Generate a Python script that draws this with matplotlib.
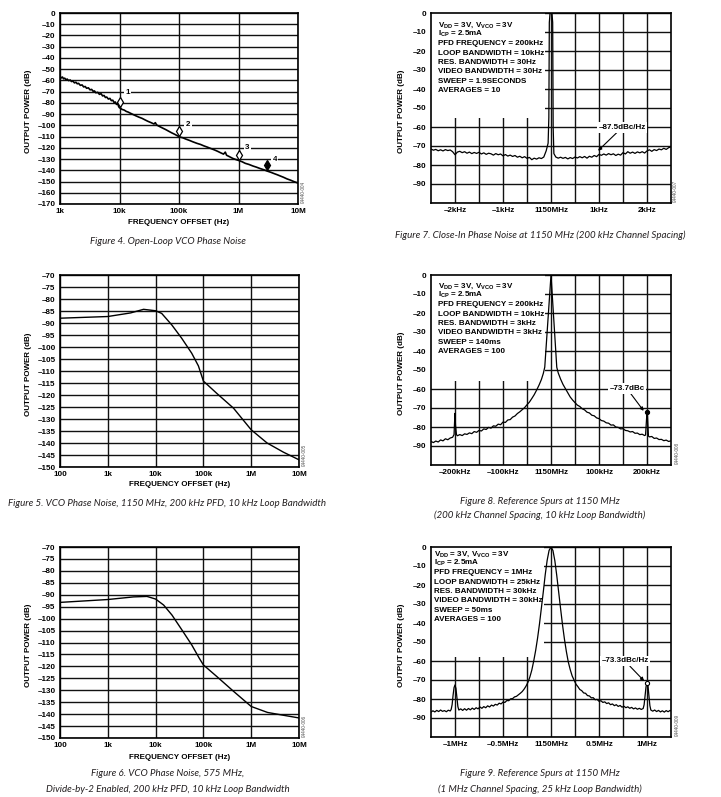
import matplotlib
matplotlib.use('Agg')
import matplotlib.pyplot as plt
from matplotlib.patches import Rectangle
from matplotlib.ticker import FixedLocator, FixedFormatter, NullLocator

plt.rcParams['font.family'] = ['Liberation Sans', 'DejaVu Sans']
plt.rcParams['mathtext.fontset'] = 'custom'
plt.rcParams['mathtext.rm'] = 'Liberation Sans:bold'
plt.rcParams['mathtext.it'] = 'Liberation Sans:bold'
plt.rcParams['mathtext.bf'] = 'Liberation Sans:bold'

# ---------------------------------------------------------------- data
# Figure 4: open-loop VCO phase noise (Hz, dB)
FIG4_TRACE = [
    (1000, -56.4), (1050, -57.8), (1100, -57.0), (1150, -58.6), (1200, -58.0),
    (1260, -59.4), (1320, -58.8), (1400, -60.2), (1480, -59.6), (1560, -61.0),
    (1650, -60.6), (1750, -62.2), (1850, -61.6), (1950, -63.0), (2050, -62.6),
    (2200, -64.4), (2350, -64.0), (2500, -65.8), (2650, -65.4), (2800, -67.0),
    (3000, -66.6), (3200, -68.4), (3400, -68.0), (3600, -69.6), (3800, -69.4),
    (4000, -71.0), (4300, -70.6), (4600, -72.4), (4900, -71.8), (5200, -73.8),
    (5500, -73.4), (5800, -75.2), (6100, -74.8), (6500, -76.6), (6900, -76.0),
    (7300, -78.0), (7700, -77.6), (8100, -79.6), (8500, -79.2), (8900, -81.4),
    (9300, -80.6), (9700, -83.4), (10000, -84.4), (10500, -84.8), (11000, -85.8),
    (12000, -86.4), (13000, -87.6), (14000, -88.2), (15000, -89.0), (17000, -90.4),
    (19000, -91.6), (21000, -92.6), (24000, -93.8), (27000, -95.2), (30000, -96.4),
    (34000, -97.6), (38000, -98.8), (40000, -97.6), (42000, -99.6), (47000, -101.0),
    (53000, -102.4), (60000, -103.8), (67000, -105.2), (75000, -106.6), (85000, -108.0),
    (95000, -109.4), (100000, -110.2), (115000, -111.0), (130000, -112.2), (150000, -113.4),
    (170000, -114.6), (200000, -116.0), (230000, -117.0), (260000, -118.2), (300000, -119.4),
    (350000, -120.8), (400000, -122.0), (450000, -123.2), (500000, -124.4), (560000, -125.6),
    (600000, -123.8), (630000, -126.6), (700000, -127.8), (800000, -129.4), (900000, -130.4),
    (1000000, -131.2), (1150000, -132.4), (1300000, -133.8), (1500000, -134.8), (1750000, -136.2),
    (2000000, -137.2), (2300000, -138.4), (2700000, -139.6), (3000000, -140.6), (3500000, -141.8),
    (4000000, -143.0), (4500000, -144.0), (5000000, -145.0), (5700000, -146.2), (6500000, -147.6),
    (7500000, -148.8), (8500000, -150.0), (10000000, -151.4),
]
FIG4_MARKER_HZ = [1e4, 1e5, 1e6, 3e6]
FIG4_MARKER_DB = [-79, -105, -126, -135]
FIG4_MARKER_LABELS = ['1', '2', '3', '4']

# Figure 5: VCO phase noise, 1150 MHz
FIG5_HZ = [100, 1000, 3000, 5600, 10000, 13400, 21800, 35000, 57000, 78700,
           100000, 190000, 427000, 1000000, 2150000, 4700000, 10000000]
FIG5_DB = [-88.0, -87.3, -85.8, -84.3, -84.9, -86.0, -90.8, -96.3, -102.6, -107.9,
           -114.2, -119.3, -125.5, -134.5, -140.0, -143.8, -147.0]

# Figure 6: VCO phase noise, 575 MHz, divide-by-2
FIG6_HZ = [100, 1000, 3450, 6600, 10000, 14700, 22000, 35700, 57000, 82000,
           100000, 192000, 430000, 1000000, 2200000, 4800000, 10000000]
FIG6_DB = [-93.2, -92.0, -90.9, -90.7, -91.8, -94.3, -98.5, -104.8, -111.0, -116.6,
           -119.4, -124.3, -130.5, -136.8, -139.3, -140.5, -141.6]

# Figure 7: close-in phase noise (kHz offset, dB)
FIG7_TRACE = [
    (-2.50, -71.6), (-2.45, -72.2), (-2.40, -71.8), (-2.35, -72.5), (-2.30, -72.0),
    (-2.25, -72.6), (-2.20, -71.9), (-2.15, -72.4), (-2.10, -72.1), (-2.05, -73.0),
    (-2.00, -74.6), (-1.95, -73.2), (-1.90, -72.8), (-1.85, -73.5), (-1.80, -73.0),
    (-1.75, -73.8), (-1.70, -73.2), (-1.65, -74.0), (-1.60, -73.4), (-1.55, -73.9),
    (-1.50, -73.3), (-1.45, -74.2), (-1.40, -73.6), (-1.35, -74.4), (-1.30, -73.8),
    (-1.25, -74.1), (-1.20, -74.8), (-1.15, -74.0), (-1.10, -74.6), (-1.05, -74.2),
    (-1.00, -75.2), (-0.95, -74.5), (-0.90, -75.3), (-0.85, -74.8), (-0.80, -75.5),
    (-0.75, -75.0), (-0.70, -75.9), (-0.65, -75.4), (-0.60, -76.2), (-0.55, -75.6),
    (-0.50, -76.5), (-0.45, -76.0), (-0.40, -77.2), (-0.35, -76.4), (-0.30, -76.9),
    (-0.25, -76.2), (-0.20, -76.6), (-0.15, -75.8), (-0.10, -72.5), (-0.06, -68.5),
    (-0.045, -55.0), (-0.035, -5.0), (-0.02, 0.0), (0.02, 0.0), (0.035, -5.0),
    (0.045, -60.0), (0.06, -74.0), (0.10, -75.8), (0.15, -76.4), (0.20, -75.9),
    (0.25, -76.5), (0.30, -76.0), (0.35, -76.8), (0.40, -76.1), (0.45, -76.6),
    (0.50, -75.8), (0.55, -76.3), (0.60, -75.6), (0.65, -76.2), (0.70, -75.5),
    (0.75, -76.4), (0.80, -75.4), (0.85, -75.9), (0.90, -75.0), (0.95, -75.6),
    (1.00, -74.4), (1.05, -74.9), (1.10, -74.2), (1.15, -74.8), (1.20, -74.0),
    (1.25, -74.6), (1.30, -74.1), (1.35, -75.0), (1.40, -74.3), (1.45, -74.8),
    (1.50, -73.5), (1.55, -74.2), (1.60, -73.0), (1.65, -73.8), (1.70, -73.2),
    (1.75, -73.9), (1.80, -73.1), (1.85, -73.6), (1.90, -73.0), (1.95, -73.7),
    (2.00, -72.6), (2.05, -72.0), (2.10, -72.8), (2.15, -71.9), (2.20, -72.4),
    (2.25, -71.6), (2.30, -72.0), (2.35, -71.2), (2.40, -71.8), (2.45, -70.9),
    (2.50, -70.4),
]

# Figure 8: reference spurs, 200 kHz channel spacing (kHz offset, dB)
FIG8_TRACE = [
    (-250, -87.6), (-245, -88.2), (-240, -87.4), (-235, -87.9), (-230, -86.8),
    (-225, -87.3), (-220, -86.2), (-215, -86.7), (-210, -85.8), (-205, -85.4),
    (-202, -84.0), (-201, -78.0), (-200, -72.8), (-199, -79.0), (-197, -84.0),
    (-195, -84.6), (-190, -84.0), (-185, -84.5), (-180, -83.6), (-175, -83.9),
    (-170, -83.1), (-165, -83.5), (-160, -82.4), (-155, -82.8), (-150, -81.8),
    (-145, -82.1), (-140, -81.0), (-135, -81.3), (-130, -80.2), (-125, -80.6),
    (-120, -79.4), (-115, -79.6), (-110, -78.5), (-105, -78.8), (-100, -77.4),
    (-95, -77.6), (-90, -76.3), (-85, -76.1), (-80, -74.8), (-75, -74.2),
    (-70, -72.9), (-65, -72.0), (-60, -70.9), (-55, -69.8), (-50, -68.3),
    (-45, -66.9), (-40, -65.0), (-35, -63.0), (-30, -60.6), (-25, -58.0),
    (-20, -55.0), (-16, -51.8), (-13, -48.5), (0, 0.0), (12, -48.5),
    (15, -51.5), (20, -54.8), (25, -57.6), (30, -59.8), (35, -62.0),
    (40, -64.2), (45, -65.8), (50, -67.2), (55, -68.5), (60, -69.2),
    (65, -70.4), (70, -71.0), (75, -72.2), (80, -72.6), (85, -73.8),
    (90, -74.1), (95, -75.2), (100, -75.6), (105, -76.6), (110, -76.9),
    (115, -77.8), (120, -78.0), (125, -79.0), (130, -78.9), (135, -80.0),
    (140, -80.2), (145, -81.0), (150, -80.9), (155, -81.8), (160, -82.0),
    (165, -82.6), (170, -82.4), (175, -83.3), (180, -83.2), (185, -84.0),
    (190, -83.8), (195, -84.5), (197, -84.2), (199, -76.0), (200, -72.3),
    (201, -74.0), (203, -84.8), (205, -85.2), (210, -85.0), (215, -86.0),
    (220, -85.8), (225, -86.6), (230, -86.5), (235, -87.2), (240, -86.9),
    (245, -87.6), (250, -87.3),
]

# Figure 9: reference spurs, 1 MHz channel spacing (MHz offset, dB)
FIG9_TRACE = [
    (-1.25, -86.9), (-1.23, -86.2), (-1.21, -86.8), (-1.19, -86.0), (-1.17, -86.6),
    (-1.15, -85.8), (-1.13, -86.5), (-1.11, -86.1), (-1.09, -86.7), (-1.07, -85.9),
    (-1.05, -86.3), (-1.04, -85.5), (-1.03, -83.0), (-1.02, -78.0), (-1.01, -74.0),
    (-1.00, -72.6), (-0.99, -74.5), (-0.98, -79.0), (-0.97, -84.0), (-0.96, -85.8),
    (-0.94, -85.2), (-0.92, -86.0), (-0.90, -85.1), (-0.88, -85.9), (-0.86, -85.0),
    (-0.84, -85.7), (-0.82, -84.8), (-0.80, -85.5), (-0.78, -84.6), (-0.76, -85.2),
    (-0.74, -84.2), (-0.72, -84.9), (-0.70, -84.0), (-0.68, -84.6), (-0.66, -83.6),
    (-0.64, -84.2), (-0.62, -83.2), (-0.60, -83.7), (-0.58, -82.8), (-0.56, -83.2),
    (-0.54, -82.2), (-0.52, -82.6), (-0.50, -81.6), (-0.48, -81.8), (-0.46, -80.8),
    (-0.44, -80.9), (-0.42, -79.9), (-0.40, -79.8), (-0.38, -78.9), (-0.36, -78.6),
    (-0.34, -77.8), (-0.32, -77.0), (-0.30, -76.1), (-0.28, -74.8), (-0.26, -73.2),
    (-0.24, -71.2), (-0.22, -68.4), (-0.20, -64.8), (-0.18, -60.0), (-0.16, -54.5),
    (-0.14, -48.0), (-0.12, -40.5), (-0.10, -32.0), (-0.08, -23.5), (-0.06, -14.5),
    (-0.04, -7.0), (-0.02, -1.8), (0.00, 0.0), (0.02, -1.8), (0.04, -7.2),
    (0.06, -15.0), (0.08, -24.0), (0.10, -32.5), (0.12, -41.0), (0.14, -48.5),
    (0.16, -55.0), (0.18, -60.5), (0.20, -64.5), (0.22, -67.8), (0.24, -70.0),
    (0.26, -72.2), (0.28, -73.5), (0.30, -75.0), (0.32, -75.6), (0.34, -76.8),
    (0.36, -77.0), (0.38, -78.2), (0.40, -78.4), (0.42, -79.4), (0.44, -79.3),
    (0.46, -80.4), (0.48, -80.2), (0.50, -81.2), (0.52, -80.9), (0.54, -81.8),
    (0.56, -81.5), (0.58, -82.4), (0.60, -82.0), (0.62, -83.0), (0.64, -82.6),
    (0.66, -83.5), (0.68, -83.0), (0.70, -83.9), (0.72, -83.4), (0.74, -84.3),
    (0.76, -83.8), (0.78, -84.6), (0.80, -84.1), (0.82, -84.9), (0.84, -84.4),
    (0.86, -85.2), (0.88, -84.7), (0.90, -85.4), (0.92, -84.9), (0.94, -85.5),
    (0.96, -85.0), (0.97, -83.0), (0.98, -78.0), (0.99, -73.5), (1.00, -71.8),
    (1.01, -73.0), (1.02, -78.0), (1.03, -83.5), (1.04, -85.8), (1.06, -86.4),
    (1.08, -85.8), (1.10, -86.6), (1.12, -86.0), (1.14, -86.8), (1.16, -86.2),
    (1.18, -86.9), (1.20, -86.1), (1.22, -86.7), (1.24, -86.0), (1.25, -86.3),
]

# tick labels
LOG_TICKS_4 = [1e3, 1e4, 1e5, 1e6, 1e7]
LOG_LABELS_4 = ['1k', '10k', '100k', '1M', '10M']
LOG_TICKS_56 = [1e2, 1e3, 1e4, 1e5, 1e6, 1e7]
LOG_LABELS_56 = ['100', '1k', '10k', '100k', '1M', '10M']
Y_TICKS_4 = list(range(0, -171, -10))
Y_TICKS_56 = list(range(-70, -151, -5))
Y_TICKS_SPEC = list(range(0, -101, -10))
FIG7_XGRID = [-2.0, -1.5, -1.0, -0.5, 0.0, 0.5, 1.0, 1.5, 2.0]
FIG7_XLABELS = ['–2kHz', '', '–1kHz', '', '1150MHz', '', '1kHz', '', '2kHz']
FIG8_XGRID = [-200, -150, -100, -50, 0, 50, 100, 150, 200]
FIG8_XLABELS = ['–200kHz', '', '–100kHz', '', '1150MHz', '', '100kHz', '', '200kHz']
FIG9_XGRID = [-1.0, -0.75, -0.5, -0.25, 0.0, 0.25, 0.5, 0.75, 1.0]
FIG9_XLABELS = ['–1MHz', '', '–0.5MHz', '', '1150MHz', '', '0.5MHz', '', '1MHz']

FIG7_NOTES = [r'V$_{DD}$ = 3V, V$_{VCO}$ = 3V', r'I$_{CP}$ = 2.5mA', 'PFD FREQUENCY = 200kHz',
              'LOOP BANDWIDTH = 10kHz', 'RES. BANDWIDTH = 30Hz', 'VIDEO BANDWIDTH = 30Hz',
              'SWEEP = 1.9SECONDS', 'AVERAGES = 10']
FIG8_NOTES = [r'V$_{DD}$ = 3V, V$_{VCO}$ = 3V', r'I$_{CP}$ = 2.5mA', 'PFD FREQUENCY = 200kHz',
              'LOOP BANDWIDTH = 10kHz', 'RES. BANDWIDTH = 3kHz', 'VIDEO BANDWIDTH = 3kHz',
              'SWEEP = 140ms', 'AVERAGES = 100']
FIG9_NOTES = [r'V$_{DD}$ = 3V, V$_{VCO}$ = 3V', r'I$_{CP}$ = 2.5mA', 'PFD FREQUENCY = 1MHz',
              'LOOP BANDWIDTH = 25kHz', 'RES. BANDWIDTH = 30kHz', 'VIDEO BANDWIDTH = 30kHz',
              'SWEEP = 50ms', 'AVERAGES = 100']

# ---------------------------------------------------------------- layout helpers
W, H = 721, 797
FS = 5.8
CAP_FS = 7.0
INK = '#111111'
fig = plt.figure(figsize=(W / 100, H / 100), dpi=100)


def add_axes(x0, y0, x1, y1):
    return fig.add_axes([x0 / W, 1 - y1 / H, (x1 - x0) / W, (y1 - y0) / H])


def ftext(px, py, s, **kw):
    fig.text(px / W, 1 - py / H, s, **kw)


def dash(v):
    s = f'{v:g}'
    return s.replace('-', '–')


def style(ax, xgrid, xlabels, ygrid, ylabels, ypad):
    ax.set_axisbelow(True)
    ax.xaxis.set_major_locator(FixedLocator(xgrid))
    ax.xaxis.set_major_formatter(FixedFormatter(xlabels))
    ax.yaxis.set_major_locator(FixedLocator(ygrid))
    ax.yaxis.set_major_formatter(FixedFormatter(ylabels))
    ax.xaxis.set_minor_locator(NullLocator())
    ax.yaxis.set_minor_locator(NullLocator())
    ax.tick_params(axis='both', length=0, labelsize=FS, colors='black')
    ax.tick_params(axis='x', pad=3.2)
    ax.tick_params(axis='y', pad=ypad)
    for lab in ax.get_xticklabels() + ax.get_yticklabels():
        lab.set_fontweight('bold')
    ax.grid(True, color=INK, lw=1.0)
    for sp in ax.spines.values():
        sp.set_color('black')
        sp.set_linewidth(1.2)


def axis_texts(ax_box, xlabel_y, ylabel_x, fid, fid_x):
    x0, y0, x1, y1 = ax_box
    ftext(ylabel_x, (y0 + y1) / 2 + 3, 'OUTPUT POWER (dB)', rotation=90, ha='center',
          va='center', fontsize=FS, fontweight='bold')
    if xlabel_y is not None:
        ftext((x0 + x1) / 2, xlabel_y, 'FREQUENCY OFFSET (Hz)', ha='center', va='center',
              fontsize=FS, fontweight='bold')
    ftext(fid_x, y1 - 12, fid, rotation=90, ha='center', va='center', fontsize=3.4,
          color='#555555')


def caption(cx, cy, s):
    ftext(cx, cy, s, ha='center', va='center', fontsize=CAP_FS, style='italic',
          family=['Lato', 'DejaVu Sans'], color='#231f20')


def notes(ax, lines, x_frac, y_top_px, ax_top_px, step_px, ax_h_px):
    for i, s in enumerate(lines):
        y = 1 - (y_top_px + i * step_px - ax_top_px) / ax_h_px
        ax.text(x_frac, y, s, transform=ax.transAxes, ha='left', va='center',
                fontsize=FS, fontweight='bold', zorder=4)


def white_box(ax, w, h):
    ax.add_patch(Rectangle((0, 1 - h), w, h, transform=ax.transAxes, facecolor='white',
                           edgecolor='none', zorder=1))


# ---------------------------------------------------------------- Figure 4
B1 = (60, 13, 298, 204)
ax = add_axes(*B1)
ax.set_xscale('log')
fx, fy = zip(*FIG4_TRACE)
ax.plot(fx, fy, color='black', lw=1.2, zorder=3)
for hz, db, lab in zip(FIG4_MARKER_HZ, FIG4_MARKER_DB, FIG4_MARKER_LABELS):
    ax.plot([hz], [db], marker='d', ms=5.5, mfc='black' if lab == '4' else 'white',
            mec='black', mew=0.9, zorder=4)
for (lx, ly), lab in zip([(1.25e4, -71), (1.3e5, -99), (1.29e6, -119.5), (3.76e6, -130)],
                         FIG4_MARKER_LABELS):
    ax.text(lx, ly, lab, ha='left', va='center', fontsize=FS, fontweight='bold', zorder=5,
            bbox=dict(facecolor='white', edgecolor='none', pad=1.0))
ax.set_xlim(1e3, 1e7)
ax.set_ylim(-170, 0)
style(ax, LOG_TICKS_4, LOG_LABELS_4, Y_TICKS_4, [dash(v) for v in Y_TICKS_4], 3.2)
axis_texts(B1, 222.5, 29, '04440-004', 303)
caption(168, 241, 'Figure 4. Open-Loop VCO Phase Noise')

# ---------------------------------------------------------------- Figure 5
B3 = (60, 275, 299, 467)
ax = add_axes(*B3)
ax.set_xscale('log')
ax.plot(FIG5_HZ, FIG5_DB, color='black', lw=1.0, zorder=3)
ax.set_xlim(1e2, 1e7)
ax.set_ylim(-150, -70)
style(ax, LOG_TICKS_56, LOG_LABELS_56, Y_TICKS_56, [dash(v) for v in Y_TICKS_56], 3.2)
axis_texts(B3, 485, 29, '04440-005', 304)
caption(167, 503, 'Figure 5. VCO Phase Noise, 1150 MHz, 200 kHz PFD, 10 kHz Loop Bandwidth')

# ---------------------------------------------------------------- Figure 6
B5 = (60, 547, 299, 738)
ax = add_axes(*B5)
ax.set_xscale('log')
ax.plot(FIG6_HZ, FIG6_DB, color='black', lw=1.0, zorder=3)
ax.set_xlim(1e2, 1e7)
ax.set_ylim(-150, -70)
style(ax, LOG_TICKS_56, LOG_LABELS_56, Y_TICKS_56, [dash(v) for v in Y_TICKS_56], 3.2)
axis_texts(B5, 757.5, 29, '04440-006', 304)
caption(168, 774, 'Figure 6. VCO Phase Noise, 575 MHz,')
caption(168, 789, 'Divide-by-2 Enabled, 200 kHz PFD, 10 kHz Loop Bandwidth')

# ---------------------------------------------------------------- spectrum helper
SPEC_YLABELS = [dash(v) if v > -100 else '' for v in Y_TICKS_SPEC]


def spectrum(box, trace, xlim, xgrid, xlabels, note_lines, note_x, note_y0, box_w, box_h,
             fid, fid_x, ann_text, ann_xy, ann_txt_xy, spur_x=None, spur_style=None):
    ax = add_axes(*box)
    x, y = zip(*trace)
    ax.plot(x, y, color='black', lw=0.9, zorder=3)
    ax.set_xlim(*xlim)
    ax.set_ylim(-100, 0)
    style(ax, xgrid, xlabels, Y_TICKS_SPEC, SPEC_YLABELS, 3.2)
    white_box(ax, box_w, box_h)
    notes(ax, note_lines, note_x, note_y0, box[1], 9.35, box[3] - box[1])
    ax.annotate(ann_text, xy=ann_xy, xytext=ann_txt_xy, ha='center', va='center',
                fontsize=FS, fontweight='bold', zorder=6,
                bbox=dict(facecolor='white', edgecolor='none', pad=1.2),
                arrowprops=dict(arrowstyle='-|>', color='black', lw=0.8,
                                mutation_scale=5, shrinkA=0, shrinkB=0))
    if spur_x is not None:
        sy = dict(trace)[spur_x]
        ax.plot([spur_x], [sy], marker='o', ms=3, mec='black', mew=0.8,
                mfc=spur_style, zorder=5)
    axis_texts(box, None, 401.5, fid, fid_x)
    return ax


B2 = (431, 13, 671, 203)
spectrum(B2, FIG7_TRACE, (-2.5, 2.5), FIG7_XGRID, FIG7_XLABELS, FIG7_NOTES, 0.03, 25,
         0.475, 0.55, '04440-007', 675, '–87.5dBc/Hz', (0.98, -72.5), (1.48, -60.3))
caption(540, 235, 'Figure 7. Close-In Phase Noise at 1150 MHz (200 kHz Channel Spacing)')

B4 = (431, 275, 671, 465)
spectrum(B4, FIG8_TRACE, (-250, 250), FIG8_XGRID, FIG8_XLABELS, FIG8_NOTES, 0.03, 286,
         0.475, 0.556, '04440-008', 677, '–73.7dBc', (193, -71.5), (158, -59.7),
         spur_x=200, spur_style='black')
caption(540, 501, 'Figure 8. Reference Spurs at 1150 MHz')
caption(540, 515, '(200 kHz Channel Spacing, 10 kHz Loop Bandwidth)')

B6 = (431, 547, 671, 737)
spectrum(B6, FIG9_TRACE, (-1.25, 1.25), FIG9_XGRID, FIG9_XLABELS, FIG9_NOTES, 0.0125, 554,
         0.47, 0.58, '04440-009', 677, '–73.3dBc/Hz', (0.97, -70.5), (0.77, -60.0),
         spur_x=1.00, spur_style='white')
caption(540, 774, 'Figure 9. Reference Spurs at 1150 MHz')
caption(540, 789, '(1 MHz Channel Spacing, 25 kHz Loop Bandwidth)')

fig.savefig('out.png', dpi=100)
